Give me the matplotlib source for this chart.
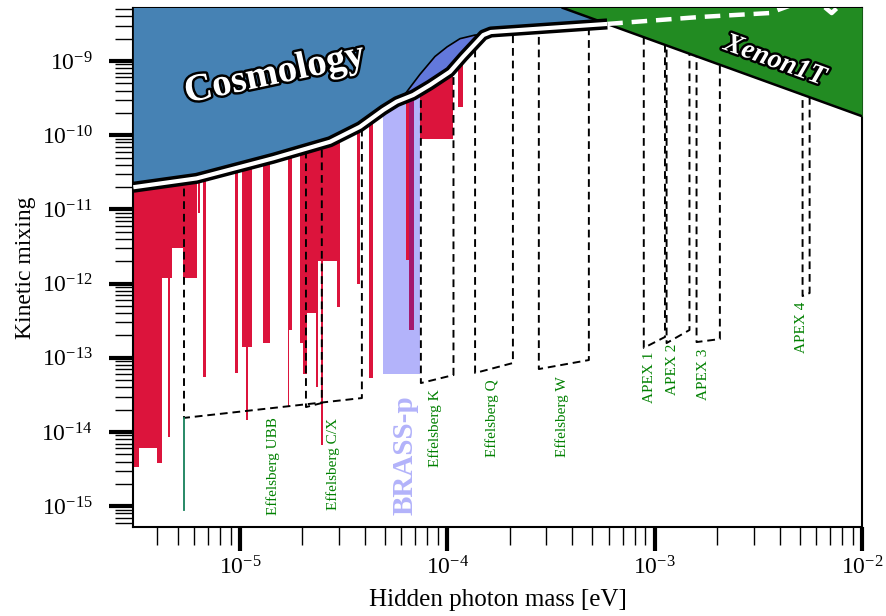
import numpy as np
import matplotlib
matplotlib.use("Agg")
import matplotlib.pyplot as plt
import matplotlib.patheffects as pe
from matplotlib.ticker import LogLocator, NullFormatter

plt.rcParams['font.family'] = 'serif'
plt.rcParams['font.serif'] = ['Liberation Serif', 'DejaVu Serif']
plt.rcParams['mathtext.fontset'] = 'stix'

# ---------------------------------------------------------
# Data (mass in eV, kinetic mixing)
# ---------------------------------------------------------
# cosmology bound, lower edge
cosmo_mass = [3.06e-6, 6.18e-6, 1.445e-5, 2.72e-5, 3.79e-5, 4.91e-5, 5.69e-5,
              6.84e-5, 8.24e-5, 1.03e-4, 1.19e-4, 1.49e-4, 1.62e-4, 5.9e-4]
cosmo_chi = [1.99e-11, 2.62e-11, 4.89e-11, 8.17e-11, 1.30e-10, 2.19e-10, 2.83e-10,
             3.48e-10, 4.75e-10, 7.18e-10, 1.14e-9, 2.24e-9, 2.46e-9, 3.16e-9]
# continuation of the bound hidden under Xenon1T (dashed white)
hidden_mass = [5.9e-4, 1.65e-3, 3.58e-3, 4.5e-3, 6.45e-3, 7.13e-3, 7.79e-3]
hidden_chi = [3.16e-9, 3.92e-9, 4.43e-9, 5.6e-9, 5.6e-9, 4.43e-9, 5.6e-9]

# blue shoulder on top of the cosmology bound
bump_mass = [6.11e-5, 7.37e-5, 8.71e-5, 9.96e-5, 1.15e-4, 1.36e-4, 1.49e-4]
bump_chi = [3.3e-10, 6.6e-10, 1.15e-9, 1.55e-9, 2.0e-9, 2.24e-9, 2.24e-9]

# Xenon1T
xenon_mass = [3.6e-4, 1e-2]
xenon_chi = [5.2e-9, 1.8e-10]

# existing haloscope limits (red): start, end, lowest excluded mixing
red_lo = [3.05e-6, 3.25e-6, 3.98e-6, 4.21e-6, 4.52e-6, 4.70e-6, 5.30e-6, 6.28e-6,
          6.64e-6, 9.46e-6, 1.02e-5, 1.07e-5, 1.29e-5, 1.70e-5, 1.70e-5, 1.95e-5,
          2.01e-5, 2.10e-5, 2.33e-5, 2.38e-5, 2.46e-5, 2.95e-5, 3.66e-5, 4.19e-5,
          6.31e-5, 7.37e-5, 1.12e-4]
red_hi = [3.25e-6, 3.98e-6, 4.21e-6, 4.70e-6, 4.58e-6, 5.30e-6, 6.21e-6, 6.42e-6,
          6.86e-6, 9.78e-6, 1.14e-5, 1.09e-5, 1.40e-5, 1.78e-5, 1.72e-5, 2.01e-5,
          2.10e-5, 2.38e-5, 2.38e-5, 3.03e-5, 2.50e-5, 3.03e-5, 3.79e-5, 4.38e-5,
          6.52e-5, 1.06e-4, 1.19e-4]
red_min = [3.4e-15, 6.0e-15, 3.8e-15, 1.2e-12, 8.6e-15, 3.0e-12, 1.2e-12, 9.0e-12,
           5.5e-14, 6.2e-14, 1.4e-13, 1.45e-14, 1.6e-13, 2.4e-13, 2.2e-14, 1.6e-13,
           6.0e-14, 4.0e-13, 4.0e-14, 2.0e-12, 6.7e-15, 4.8e-13, 1.0e-12, 5.3e-14,
           2.1e-12, 9.0e-11, 2.4e-10]

# BRASS-p
brass_mass = [4.89e-5, 7.37e-5]
brass_chi = 6.0e-14
brass_line_mass = [6.52e-5, 6.90e-5]
brass_line_chi = 2.4e-13

# projected sensitivities: left mass, left floor, right mass, right floor
box_names = ["Effelsberg UBB", "Effelsberg C/X", "Effelsberg K", "Effelsberg Q",
             "Effelsberg W", "APEX 1", "APEX 2", "APEX 3", "APEX 4"]
box_xl = [5.37e-6, 2.08e-5, 7.45e-5, 1.36e-4, 2.76e-4, 8.85e-4, 1.14e-3, 1.59e-3, 5.16e-3]
box_yl = [1.55e-14, 2.17e-14, 4.57e-14, 6.24e-14, 7.06e-14, 1.36e-13, 1.58e-13, 1.63e-13, 6.8e-13]
box_xr = [3.87e-5, 2.48e-5, 1.07e-4, 2.07e-4, 4.81e-4, 1.12e-3, 1.47e-3, 2.06e-3, 5.58e-3]
box_yr = [2.87e-14, 2.46e-14, 5.86e-14, 8.51e-14, 9.33e-14, 1.91e-13, 2.37e-13, 1.79e-13, 7.47e-13]
label_x = [1.44e-5, 2.81e-5, 8.7e-5, 1.64e-4, 3.56e-4, 9.46e-4, 1.22e-3, 1.72e-3, 5.1e-3]
label_y = [7.6e-16, 8.9e-16, 3.4e-15, 4.6e-15, 4.6e-15, 2.46e-14, 3.15e-14, 2.7e-14, 1.16e-13]

ubb_line_x = 5.37e-6
ubb_line_chi = [1.55e-14, 9.0e-16]

TOP = 1e-8

fig = plt.figure(figsize=(8.87, 6.16), dpi=100)
ax = fig.add_axes([0.150, 0.1445, 0.822, 0.8425])
ax.set_xscale('log')
ax.set_yscale('log')

# red limits
for lo, hi, mn in zip(red_lo, red_hi, red_min):
    ax.fill_between([lo, hi], [mn, mn], [TOP, TOP], color='crimson', lw=0, zorder=1)

# BRASS-p
ax.fill_between(brass_mass, [brass_chi] * 2, [TOP] * 2, color='#b3b3fa', lw=0, zorder=1.2)
ax.fill_between(brass_line_mass, [brass_line_chi] * 2, [TOP] * 2, color='#a3186e', lw=0, zorder=1.3)
ax.fill_between([6.31e-5, 6.52e-5], [2.1e-12] * 2, [TOP] * 2, color='crimson', lw=0, zorder=1.3)

# projected boxes
for xl, yl, xr, yr in zip(box_xl, box_yl, box_xr, box_yr):
    ax.plot([xl, xl, xr, xr], [TOP, yl, yr, TOP], color='k', ls=(0, (4, 2.5)), lw=1.4, zorder=2)
ax.plot([ubb_line_x, ubb_line_x], ubb_line_chi, color='#16805a', lw=1.3, zorder=2)

for name, lx, ly in zip(box_names, label_x, label_y):
    ax.text(lx, ly, name, rotation=90, ha='center', va='bottom', color='green',
            fontsize=11, zorder=5)
ax.text(6.24e-5, 7.6e-16, "BRASS-p", rotation=90, ha='center', va='bottom',
        color='#b3b3fa', fontsize=21, fontweight='bold', zorder=5)

# cosmology
cm = list(cosmo_mass) + hidden_mass[1:]
cc = list(cosmo_chi) + hidden_chi[1:]
ax.fill_between(cm, cc, [TOP] * len(cm), color='steelblue', lw=0, zorder=3)

# blue shoulder
bx = bump_mass + [1.19e-4, 1.03e-4, 8.24e-5, 6.84e-5, 6.11e-5]
by = bump_chi + [1.14e-9, 7.18e-10, 4.75e-10, 3.48e-10, 3.3e-10]
ax.fill(bx, by, color='#6278db', lw=0, zorder=3.1)
ax.plot(bump_mass, bump_chi, color='k', lw=1.2, zorder=3.2)

# Xenon1T
ax.fill_between(xenon_mass, xenon_chi, [TOP, TOP], color='forestgreen', lw=0, zorder=3.3)
ax.plot(xenon_mass, xenon_chi, color='k', lw=1.8, zorder=3.4)
ax.plot(hidden_mass, hidden_chi, color='white', lw=3.2, ls=(0, (3.5, 2)), zorder=3.5)

# cosmology edge
ax.plot(cosmo_mass, cosmo_chi, color='k', lw=8, solid_capstyle='butt',
        solid_joinstyle='round', zorder=4)
ax.plot(cosmo_mass, cosmo_chi, color='white', lw=3, solid_capstyle='butt',
        solid_joinstyle='round', zorder=4.1)

outline = [pe.withStroke(linewidth=3.5, foreground='k')]
ax.text(1.47e-5, 6.6e-10, "Cosmology", rotation=12, ha='center', va='center',
        fontsize=28, fontweight='bold', color='white', path_effects=outline, zorder=6)
ax.text(3.78e-3, 1.0e-9, "Xenon1T", rotation=-20, ha='center', va='center',
        fontsize=20, fontweight='bold', style='italic', color='white',
        path_effects=outline, zorder=6)

ax.set_xlim(3.05e-6, 1e-2)
ax.set_ylim(5.25e-16, 5.18e-9)

ax.xaxis.set_major_locator(LogLocator(base=10, numticks=20))
ax.xaxis.set_minor_locator(LogLocator(base=10, subs=np.arange(2, 10), numticks=100))
ax.yaxis.set_major_locator(LogLocator(base=10, numticks=20))
ax.yaxis.set_minor_locator(LogLocator(base=10, subs=np.arange(2, 10), numticks=100))
ax.xaxis.set_minor_formatter(NullFormatter())
ax.yaxis.set_minor_formatter(NullFormatter())
ax.tick_params(which='major', direction='out', length=17, width=3, labelsize=17)
ax.tick_params(axis='y', which='major', pad=12)
ax.tick_params(axis='x', which='major', pad=4)
ax.tick_params(which='minor', direction='out', length=13, width=1)
for s in ax.spines.values():
    s.set_linewidth(1.5)

ax.set_xlabel("Hidden photon mass [eV]", fontsize=18, labelpad=7)
ax.set_ylabel("Kinetic mixing", fontsize=17, labelpad=4)

fig.savefig("out.png", dpi=100)
